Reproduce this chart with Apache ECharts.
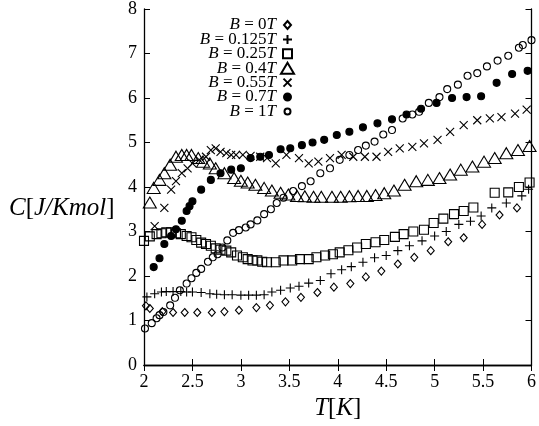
<!DOCTYPE html>
<html>
<head>
<meta charset="utf-8">
<script src="https://cdn.jsdelivr.net/npm/echarts@6/dist/echarts.min.js"></script>
<style>
html,body{margin:0;padding:0;background:#fff;}
#chart{width:539px;height:426px;}
</style>
</head>
<body>
<div id="chart"></div>
<script>
// Field labels (Tesla)
var fields = ['0', '0.125', '0.25', '0.4', '0.55', '0.7', '1'];

// B = 0T
var t0 = [2.02, 2.06, 2.19, 2.3, 2.42, 2.55, 2.7, 2.83, 2.98, 3.16, 3.3, 3.46, 3.62, 3.79, 3.96, 4.13, 4.29, 4.45, 4.62, 4.79, 4.96, 5.14, 5.3, 5.49, 5.67, 5.85];
var c0 = [1.33, 1.27, 1.2, 1.18, 1.18, 1.18, 1.18, 1.2, 1.23, 1.29, 1.34, 1.42, 1.52, 1.63, 1.75, 1.83, 1.98, 2.11, 2.27, 2.42, 2.57, 2.77, 2.86, 3.16, 3.37, 3.53];

// B = 0.125T
var t1 = [2.03, 2.11, 2.18, 2.23, 2.3, 2.38, 2.44, 2.5, 2.59, 2.68, 2.75, 2.83, 2.91, 3.0, 3.08, 3.16, 3.24, 3.32, 3.41, 3.51, 3.6, 3.7, 3.82, 3.93, 4.04, 4.14, 4.26, 4.38, 4.5, 4.62, 4.74, 4.87, 5.0, 5.12, 5.25, 5.37, 5.48, 5.59, 5.74, 5.9, 5.97];
var c1 = [1.53, 1.6, 1.64, 1.65, 1.65, 1.65, 1.64, 1.64, 1.63, 1.6, 1.59, 1.58, 1.58, 1.57, 1.57, 1.57, 1.58, 1.64, 1.68, 1.73, 1.77, 1.84, 1.9, 2.05, 2.14, 2.21, 2.31, 2.41, 2.46, 2.57, 2.68, 2.79, 2.9, 3.0, 3.16, 3.23, 3.35, 3.53, 3.64, 3.8, 3.95];

// B = 0.25T
var t2 = [2.0, 2.06, 2.13, 2.18, 2.23, 2.28, 2.33, 2.38, 2.44, 2.49, 2.54, 2.59, 2.64, 2.69, 2.74, 2.79, 2.85, 2.9, 2.96, 3.02, 3.07, 3.12, 3.17, 3.22, 3.27, 3.36, 3.44, 3.53, 3.61, 3.7, 3.78, 3.87, 3.95, 4.02, 4.11, 4.2, 4.29, 4.39, 4.48, 4.59, 4.68, 4.78, 4.89, 4.99, 5.09, 5.2, 5.3, 5.4, 5.62, 5.76, 5.87, 5.98];
var c2 = [2.79, 2.89, 2.94, 2.96, 2.98, 2.98, 2.96, 2.94, 2.9, 2.87, 2.81, 2.75, 2.72, 2.68, 2.62, 2.59, 2.57, 2.53, 2.46, 2.42, 2.38, 2.35, 2.35, 2.32, 2.31, 2.31, 2.35, 2.35, 2.38, 2.38, 2.42, 2.46, 2.49, 2.53, 2.58, 2.64, 2.72, 2.76, 2.81, 2.88, 2.94, 3.0, 3.04, 3.19, 3.29, 3.39, 3.46, 3.54, 3.87, 3.88, 4.0, 4.1];

// B = 0.4T
var t3 = [2.06, 2.1, 2.16, 2.21, 2.27, 2.33, 2.39, 2.44, 2.49, 2.56, 2.61, 2.68, 2.74, 2.83, 2.93, 3.0, 3.07, 3.15, 3.24, 3.32, 3.41, 3.49, 3.58, 3.66, 3.75, 3.83, 3.94, 4.03, 4.12, 4.21, 4.3, 4.39, 4.48, 4.58, 4.69, 4.81, 4.93, 5.05, 5.16, 5.27, 5.39, 5.51, 5.62, 5.74, 5.86, 5.98];
var c3 = [3.65, 3.98, 4.16, 4.31, 4.5, 4.68, 4.72, 4.72, 4.72, 4.65, 4.57, 4.53, 4.42, 4.31, 4.2, 4.14, 4.1, 4.05, 3.98, 3.92, 3.87, 3.83, 3.8, 3.79, 3.78, 3.78, 3.78, 3.78, 3.79, 3.8, 3.8, 3.82, 3.86, 3.92, 4.05, 4.13, 4.16, 4.2, 4.28, 4.39, 4.46, 4.57, 4.65, 4.76, 4.83, 4.92];

// B = 0.55T
var t4 = [2.11, 2.21, 2.28, 2.33, 2.39, 2.45, 2.5, 2.57, 2.64, 2.69, 2.74, 2.79, 2.85, 2.9, 2.95, 3.02, 3.1, 3.2, 3.27, 3.36, 3.47, 3.6, 3.7, 3.8, 3.92, 4.04, 4.16, 4.28, 4.4, 4.52, 4.64, 4.77, 4.89, 5.03, 5.16, 5.3, 5.44, 5.57, 5.69, 5.83, 5.95];
var c4 = [3.12, 3.53, 3.94, 4.13, 4.31, 4.42, 4.53, 4.61, 4.68, 4.83, 4.87, 4.79, 4.76, 4.72, 4.72, 4.72, 4.7, 4.68, 4.65, 4.53, 4.72, 4.65, 4.53, 4.57, 4.65, 4.72, 4.68, 4.68, 4.68, 4.79, 4.87, 4.9, 4.98, 5.06, 5.24, 5.39, 5.5, 5.54, 5.57, 5.65, 5.74];

// B = 0.7T
var t5 = [2.1, 2.16, 2.21, 2.28, 2.33, 2.39, 2.44, 2.47, 2.5, 2.59, 2.69, 2.79, 2.9, 3.0, 3.1, 3.2, 3.29, 3.41, 3.51, 3.63, 3.74, 3.86, 3.99, 4.12, 4.26, 4.41, 4.56, 4.71, 4.86, 5.02, 5.18, 5.33, 5.48, 5.64, 5.8, 5.96];
var c5 = [2.2, 2.4, 2.72, 2.9, 3.05, 3.24, 3.46, 3.57, 3.68, 3.94, 4.16, 4.31, 4.39, 4.42, 4.65, 4.68, 4.72, 4.85, 4.87, 4.94, 5.0, 5.06, 5.17, 5.24, 5.34, 5.43, 5.52, 5.63, 5.76, 5.89, 6.0, 6.02, 6.04, 6.34, 6.54, 6.61];

// B = 1T
var t6 = [2.01, 2.08, 2.13, 2.16, 2.2, 2.27, 2.32, 2.37, 2.44, 2.49, 2.54, 2.59, 2.66, 2.71, 2.76, 2.81, 2.86, 2.92, 2.98, 3.05, 3.1, 3.17, 3.24, 3.31, 3.37, 3.44, 3.54, 3.63, 3.72, 3.82, 3.92, 4.02, 4.12, 4.21, 4.29, 4.38, 4.47, 4.56, 4.67, 4.77, 4.84, 4.94, 5.05, 5.13, 5.24, 5.34, 5.44, 5.54, 5.65, 5.76, 5.87, 5.91, 6.0];
var c6 = [0.82, 0.94, 1.05, 1.12, 1.19, 1.34, 1.51, 1.68, 1.83, 1.95, 2.07, 2.16, 2.32, 2.42, 2.49, 2.64, 2.8, 2.97, 3.03, 3.09, 3.16, 3.25, 3.39, 3.5, 3.64, 3.76, 3.91, 4.02, 4.13, 4.31, 4.42, 4.61, 4.72, 4.83, 4.93, 5.02, 5.18, 5.28, 5.54, 5.63, 5.69, 5.89, 6.02, 6.2, 6.3, 6.5, 6.56, 6.71, 6.84, 6.95, 7.13, 7.19, 7.3];

var tList = [t0, t1, t2, t3, t4, t5, t6];
var cList = [c0, c1, c2, c3, c4, c5, c6];

var FONT = 'Liberation Serif';
var PLUS = 'path://M5,0L5,10M0,5L10,5';
var CROSS = 'path://M0,0L10,10M10,0L0,10';
var CLEAR = 'rgba(0,0,0,0)';
var styles = [
  {symbol: 'diamond', size: [7, 8], fill: CLEAR,
   icon: 'path://M0,0M13,11M6.5,1.5L10,5.5L6.5,9.5L3,5.5Z'},
  {symbol: PLUS, size: 9, fill: CLEAR,
   icon: 'path://M0,0M13,11M6.5,1L6.5,10M2,5.5L11,5.5'},
  {symbol: 'rect', size: 9, fill: CLEAR,
   icon: 'path://M0,0M13,11M2,1L11,1L11,10L2,10Z'},
  {symbol: 'triangle', size: [13, 11], fill: CLEAR,
   icon: 'triangle'},
  {symbol: CROSS, size: 8, fill: CLEAR,
   icon: 'path://M0,0M13,11M2.5,1.5L10.5,9.5M10.5,1.5L2.5,9.5'},
  {symbol: 'circle', size: 7, fill: '#000',
   icon: 'path://M0,0M13,11M10,5.5A3.5,3.5,0,1,1,3,5.5A3.5,3.5,0,1,1,10,5.5Z'},
  {symbol: 'circle', size: 7, fill: CLEAR,
   icon: 'path://M0,0M13,11M9.5,5.5A3,3,0,1,1,3.5,5.5A3,3,0,1,1,9.5,5.5Z'}
];

var names = fields.map(function (f) { return 'B = ' + f + 'T'; });

var series = fields.map(function (f, k) {
  var d = tList[k].map(function (t, i) { return [t, cList[k][i]]; });
  return {
    name: names[k],
    type: 'scatter',
    xAxisIndex: 0,
    yAxisIndex: 0,
    data: d,
    symbol: styles[k].symbol,
    symbolSize: styles[k].size,
    itemStyle: {color: styles[k].fill, borderColor: '#000', borderWidth: 1.1, opacity: 1},
    emphasis: {disabled: true},
    silent: true
  };
});

var chart = echarts.init(document.getElementById('chart'), null, {renderer: 'canvas'});
var axisCommon = {
  axisLine: {show: true, lineStyle: {color: '#000', width: 1.3}},
  axisTick: {show: true, inside: true, length: 6, lineStyle: {color: '#000', width: 1}},
  splitLine: {show: false}
};
chart.setOption({
  animation: false,
  backgroundColor: '#fff',
  grid: {left: 144, right: 4, top: 8, bottom: 59, containLabel: false},
  legend: {
    orient: 'vertical',
    align: 'right',
    right: 244,
    top: 16.5,
    padding: 0,
    itemGap: -2.6,
    itemWidth: 13,
    itemHeight: 11,
    selectedMode: false,
    data: names.map(function (n, k) { return {name: n, icon: styles[k].icon}; }),
    formatter: function (name) {
      var k = names.indexOf(name);
      return '{i|B} = ' + fields[k] + '{i|T}';
    },
    textStyle: {
      color: '#000', fontFamily: FONT, fontSize: 17,
      rich: {i: {fontStyle: 'italic', fontFamily: FONT, fontSize: 17, color: '#000'}}
    }
  },
  xAxis: [
    Object.assign({
      type: 'value', min: 2, max: 6, interval: 0.5, position: 'bottom',
      axisLabel: {color: '#000', fontFamily: FONT, fontSize: 18, margin: 8},
      name: '{i|T}[{i|K}]',
      nameLocation: 'middle',
      nameGap: 31,
      nameTextStyle: {
        color: '#000', fontFamily: FONT, fontSize: 25,
        rich: {i: {fontStyle: 'italic', fontFamily: FONT, fontSize: 25, color: '#000'}}
      }
    }, axisCommon),
    Object.assign({
      type: 'value', min: 2, max: 6, interval: 0.5, position: 'top',
      axisLabel: {show: false}
    }, axisCommon)
  ],
  yAxis: [
    Object.assign({
      type: 'value', min: 0, max: 8, interval: 1, position: 'left',
      axisLabel: {color: '#000', fontFamily: FONT, fontSize: 18, margin: 7}
    }, axisCommon),
    Object.assign({
      type: 'value', min: 0, max: 8, interval: 1, position: 'right',
      axisLabel: {show: false}
    }, axisCommon)
  ],
  graphic: [{
    type: 'text',
    left: 9,
    top: 196,
    style: {
      text: '{i|C}[{i|J/Kmol}]',
      fill: '#000',
      font: '25px "Liberation Serif"',
      rich: {i: {fontStyle: 'italic', fontFamily: FONT, fontSize: 25, fill: '#000'}}
    }
  }],
  series: series
});
</script>
</body>
</html>
